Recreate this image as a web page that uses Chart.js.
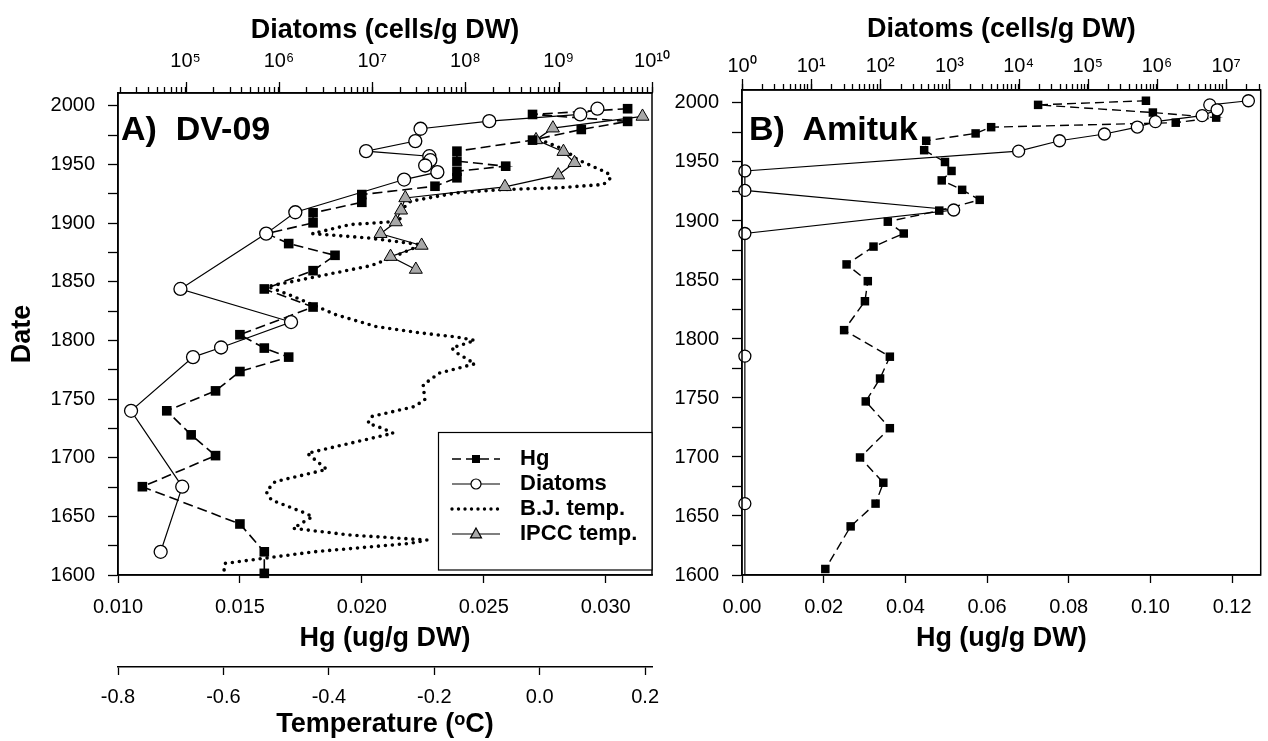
<!DOCTYPE html>
<html><head><meta charset="utf-8">
<script src="https://cdn.jsdelivr.net/npm/chart.js@4.4.1/dist/chart.umd.min.js"></script>
<style>
html,body{margin:0;padding:0;background:#fff;}
#wrap{position:relative;width:1268px;height:741px;overflow:hidden;background:#fff;}
canvas{position:absolute;top:0;}
.plab{position:absolute;font:bold 34px 'Liberation Sans',Arial,sans-serif;line-height:34px;white-space:pre;color:#000;}
</style></head><body>
<div id="wrap">
<canvas id="cA" width="700" height="741" style="left:0"></canvas>
<canvas id="cB" width="608" height="741" style="left:660px"></canvas>
<div class="plab" style="left:121px;top:111px">A)  DV-09</div>
<div class="plab" style="left:749px;top:111px">B)  Amituk</div>
</div>
<script>
// ---------------- data: panel A (DV-09) ----------------
const hgYearA = [1997.6,1992.7,1986.8,1979.9,1970.8,1961.4,1952.9,1948.6,1944.3,1938.7,1931.5,1924.4,1917.8,1908.8,1900.3,1891.1,1882.6,1872.6,1859.5,1843.9,1828.5,1804.9,1793.5,1785.8,1773.5,1757.0,1740.0,1719.5,1701.8,1675.3,1643.5,1619.8,1601.4];
const hgA = [0.0309,0.0270,0.0309,0.0290,0.0270,0.0239,0.0239,0.0259,0.0239,0.0239,0.0230,0.0200,0.0200,0.0180,0.0180,0.0161,0.0170,0.0189,0.0180,0.0160,0.0180,0.0150,0.0160,0.0170,0.0150,0.0140,0.0120,0.0130,0.0140,0.0110,0.0150,0.0160,0.0160];
const diaYearA = [1997.6,1992.7,1987.0,1980.5,1970.0,1961.4,1957.1,1953.7,1949.2,1943.5,1937.2,1909.3,1891.1,1843.9,1815.7,1794.0,1785.8,1740.0,1675.3,1619.8];
const diatomA = [2.6e9,1.7e9,1.8e8,3.3e7,2.9e7,8.6e6,4.1e7,4.2e7,3.7e7,5.0e7,2.2e7,1.5e6,7.3e5,8.8e4,1.35e6,2.4e5,1.2e5,2.6e4,9.2e4,5.4e4];
const ipccYear = [1991,1981,1971,1961,1951.5,1941,1931,1921.5,1911,1901,1891,1881,1871.5,1860.5];
const ipccTemp = [0.195,0.025,-0.007,0.045,0.066,0.035,-0.066,-0.255,-0.263,-0.273,-0.302,-0.224,-0.283,-0.235];
const bjYear = [1971.4,1962.8,1954.3,1943.0,1938.7,1933.0,1930.1,1928.7,1925.9,1918.7,1911.6,1901.6,1898.8,1891.1,1887.4,1881.6,1870.4,1867.5,1863.9,1846.0,1837.6,1822.0,1812.0,1806.3,1802.9,1800.0,1793.5,1789.3,1780.1,1772.2,1762.2,1749.4,1743.6,1735.1,1729.4,1725.2,1720.9,1703.8,1690.0,1679.6,1671.1,1664.0,1652.6,1649.7,1639.8,1634.1,1629.8,1627.0,1619.8,1609.9,1600.0];
const bjTemp = [-0.001,0.047,0.071,0.128,0.135,0.121,0.033,-0.068,-0.157,-0.245,-0.262,-0.266,-0.360,-0.431,-0.326,-0.224,-0.282,-0.299,-0.319,-0.516,-0.468,-0.387,-0.312,-0.224,-0.157,-0.123,-0.167,-0.157,-0.123,-0.190,-0.221,-0.218,-0.238,-0.319,-0.326,-0.299,-0.278,-0.441,-0.404,-0.502,-0.519,-0.509,-0.444,-0.431,-0.468,-0.360,-0.214,-0.245,-0.428,-0.597,-0.600];

// ---------------- data: panel B (Amituk) ----------------
const hgYearB = [2001.9,1998.4,1991.9,1987.6,1983.3,1979.5,1974.2,1968.0,1960.0,1950.0,1942.4,1934.4,1926.4,1917.9,1908.8,1899.4,1889.4,1878.3,1863.2,1849.0,1832.0,1807.5,1785.0,1766.5,1747.1,1724.4,1699.6,1678.2,1660.5,1641.2,1605.1];
const hgB = [0.0989,0.0725,0.1006,0.1161,0.1062,0.0610,0.0572,0.0451,0.0446,0.0497,0.0513,0.0489,0.0539,0.0582,0.0483,0.0357,0.0396,0.0322,0.0256,0.0308,0.0301,0.0250,0.0362,0.0338,0.0303,0.0362,0.0289,0.0346,0.0327,0.0266,0.0204];
const diaYearB = [2001.9,1998.4,1994.2,1989.3,1984.2,1979.6,1973.7,1968.0,1959.2,1942.4,1925.9,1909.3,1889.4,1785.5,1660.5,1600.0];
const diatomB = [2.1e7,5.8e6,7.4e6,4.5e6,9.5e5,5.2e5,1.74e5,3.9e4,1.0e4,1.1,1.1,1150,1.1,1.1,1.1,1.1];

// ---------------- tick labels ----------------
const yearTicks = [1600,1625,1650,1675,1700,1725,1750,1775,1800,1825,1850,1875,1900,1925,1950,1975,2000];
const hgTicksA = [0.010,0.015,0.020,0.025,0.030];
const tempTicks = [-0.8,-0.6,-0.4,-0.2,0.0,0.2];
const diatomDecadesA = [1e5,1e6,1e7,1e8,1e9,1e10];
const hgTicksB = [0,0.02,0.04,0.06,0.08,0.10,0.12];
const diatomDecadesB = [1e0,1e1,1e2,1e3,1e4,1e5,1e6,1e7];

// ---------------- axis ranges ----------------
const yMin = 1600, yMax = 2011;
const hgMinA = 0.010, hgMaxA = 0.0319, tempMin = -0.8, tempMax = 0.213;
const diaMinA = Math.pow(10,4.275), diaMaxA = 1e10;
const hgMinB = 0, hgMaxB = 0.127, diaMinB = 1, diaMaxB = Math.pow(10,7.5);

const FONT = "'Liberation Sans', Arial, sans-serif";
const SUP = ['⁰','¹','²','³','⁴','⁵','⁶','⁷','⁸','⁹'];
const supNum = n => String(n).split('').map(c => SUP[+c]).join('');

function logTickList(min, max){
  const out = [];
  const d0 = Math.floor(Math.log10(min)) , d1 = Math.ceil(Math.log10(max));
  for(let d=d0; d<=d1; d++){
    for(let k=1;k<=9;k++){
      const v = k*Math.pow(10,d);
      if(v >= min*0.9999 && v <= max*1.0001) out.push({value:v});
    }
  }
  return out;
}
function isDecade(v, decades){ return decades.some(d => Math.abs(Math.log10(v)-Math.log10(d))<1e-6); }

function gridOpts(len){ return {drawOnChartArea:false, drawTicks:true, tickLength:len, tickColor:'#000', tickWidth:1.3}; }
const borderOpts = {display:true, color:'#000', width:1.5};
function tickFont(){ return {family:FONT, size:20}; }
function titleFont(){ return {family:FONT, size:27, weight:'bold'}; }

const pts = (xs, ys) => xs.map((x,i)=>({x:ys[i], y:x}));

const framePlugin = {
  id:'frame',
  afterDraw(chart){
    const {ctx, chartArea:a} = chart;
    ctx.save(); ctx.strokeStyle='#000'; ctx.lineWidth=1.5;
    ctx.strokeRect(a.left, a.top, a.right-a.left, a.bottom-a.top);
    // longer ticks at the decades of the log axis
    const s = chart.scales.xTop;
    const decs = chart.canvas.id==='cA' ? diatomDecadesA : diatomDecadesB;
    ctx.lineWidth = 1.3;
    decs.forEach(v=>{
      if(v < s.min*0.9999 || v > s.max*1.0001) return;
      const x = Math.round(s.getPixelForValue(v))+0.5;
      ctx.beginPath(); ctx.moveTo(x, a.top); ctx.lineTo(x, a.top-11); ctx.stroke();
    });
    ctx.restore();
  }
};

function drawMarker(ctx, style, x, y, r){
  ctx.save(); ctx.setLineDash([]);
  ctx.lineWidth = 1.2; ctx.strokeStyle = '#000';
  if(style==='rect'){ ctx.fillStyle='#000'; ctx.fillRect(x-r, y-r, 2*r, 2*r); }
  else if(style==='circle'){ ctx.fillStyle='#fff'; ctx.beginPath(); ctx.arc(x,y,r,0,Math.PI*2); ctx.fill(); ctx.stroke(); }
  else if(style==='triangle'){ ctx.fillStyle='#a8a8a8'; ctx.beginPath(); ctx.moveTo(x, y-r*1.1); ctx.lineTo(x+r, y+r*0.7); ctx.lineTo(x-r, y+r*0.7); ctx.closePath(); ctx.fill(); ctx.stroke(); }
  ctx.restore();
}

const legendItems = [
  {label:'Hg', dash:[9,5], width:1.6, marker:'rect', r:4},
  {label:'Diatoms', dash:[], width:1.2, marker:'circle', r:5},
  {label:'B.J. temp.', dash:[0,6.5], width:3.4, marker:null, cap:'round'},
  {label:'IPCC temp.', dash:[], width:1.2, marker:'triangle', r:5.5}
];
const legendPlugin = {
  id:'boxLegend',
  afterDraw(chart){
    const ctx = chart.ctx;
    ctx.save();
    ctx.strokeStyle='#000'; ctx.lineWidth=1.2; ctx.setLineDash([]);
    ctx.fillStyle='#fff';
    ctx.fillRect(438.5, 432.5, 213.5, 137.5);
    ctx.strokeRect(438.5, 432.5, 213.5, 137.5);
    legendItems.forEach((it,i)=>{
      const y = 459 + i*25;
      ctx.save();
      ctx.strokeStyle='#000'; ctx.lineWidth=it.width; ctx.setLineDash(it.dash);
      ctx.lineCap = it.cap || 'butt';
      ctx.beginPath(); ctx.moveTo(452,y); ctx.lineTo(500,y); ctx.stroke();
      ctx.restore();
      if(it.marker) drawMarker(ctx, it.marker, 476, y, it.r);
      ctx.fillStyle='#000'; ctx.font = "bold 22px " + FONT; ctx.textBaseline='middle'; ctx.textAlign='left';
      ctx.fillText(it.label, 520, y);
    });
    ctx.restore();
  }
};

// ---------------- Chart A ----------------
new Chart(document.getElementById('cA'), {
  type:'scatter',
  data:{ datasets:[
    { label:'Diatoms', data:pts(diaYearA, diatomA), xAxisID:'xTop', yAxisID:'y', showLine:true, order:1,
      borderColor:'#000', borderWidth:1.2, pointStyle:'circle', pointRadius:6.5, pointBackgroundColor:'#fff', pointBorderColor:'#000', pointBorderWidth:1.3, clip:false },
    { label:'Hg', data:pts(hgYearA, hgA), xAxisID:'x', yAxisID:'y', showLine:true, order:2,
      borderColor:'#000', borderWidth:1.6, borderDash:[10,5], pointStyle:'rect', pointRadius:6.8, pointBackgroundColor:'#000', pointBorderColor:'#000', pointBorderWidth:0, clip:false },
    { label:'IPCC temp.', data:pts(ipccYear, ipccTemp), xAxisID:'xTemp', yAxisID:'y', showLine:true, order:3,
      borderColor:'#000', borderWidth:1.2, pointStyle:'triangle', pointRadius:7.5, pointBackgroundColor:'#a8a8a8', pointBorderColor:'#000', pointBorderWidth:1, clip:false },
    { label:'B.J. temp.', data:pts(bjYear, bjTemp), xAxisID:'xTemp', yAxisID:'y', showLine:true, order:4,
      borderColor:'#000', borderWidth:3.6, borderDash:[0,7], borderCapStyle:'round', pointRadius:0, clip:false }
  ]},
  options:{
    responsive:false, animation:false, devicePixelRatio:1,
    layout:{padding:{left:0,right:48,top:0,bottom:0}},
    plugins:{legend:{display:false}, tooltip:{enabled:false}, title:{display:false}},
    scales:{
      y:{ type:'linear', position:'left', min:yMin, max:yMax,
        afterBuildTicks:s=>{ s.ticks = yearTicks.map(v=>({value:v})); },
        afterFit:s=>{ s.width = 118; },
        grid:gridOpts(10), border:borderOpts,
        ticks:{color:'#000', font:tickFont(), padding:13, autoSkip:false, callback:v=> (v%50===0? String(v):'')},
        title:{display:true, text:'Date', color:'#000', font:titleFont(), padding:{top:6,bottom:0}} },
      x:{ type:'linear', position:'bottom', weight:0, min:hgMinA, max:hgMaxA,
        afterBuildTicks:s=>{ s.ticks = hgTicksA.map(v=>({value:v})); },
        afterFit:s=>{ s.height = 92; },
        grid:gridOpts(8), border:borderOpts,
        ticks:{color:'#000', font:tickFont(), padding:12, autoSkip:false, maxRotation:0, callback:v=>v.toFixed(3)},
        title:{display:true, text:'Hg (ug/g DW)', color:'#000', font:titleFont(), padding:{top:0,bottom:12}} },
      xTemp:{ type:'linear', position:'bottom', weight:1, min:tempMin, max:tempMax,
        afterBuildTicks:s=>{ s.ticks = tempTicks.map(v=>({value:v})); },
        afterFit:s=>{ s.height = 74; },
        grid:gridOpts(8), border:borderOpts,
        ticks:{color:'#000', font:tickFont(), padding:10, autoSkip:false, maxRotation:0, callback:v=>v.toFixed(1)},
        title:{display:true, text:'Temperature (ᵒC)', color:'#000', font:titleFont(), padding:{top:0,bottom:0}} },
      xTop:{ type:'logarithmic', position:'top', min:diaMinA, max:diaMaxA,
        afterBuildTicks:s=>{ s.ticks = logTickList(diaMinA, diaMaxA); },
        afterFit:s=>{ s.height = 93; },
        grid:gridOpts(6), border:borderOpts,
        ticks:{color:'#000', font:tickFont(), padding:14, autoSkip:false, maxRotation:0,
          callback:v=> isDecade(v, diatomDecadesA) ? '10'+supNum(Math.round(Math.log10(v))) : ''},
        title:{display:true, text:'Diatoms (cells/g DW)', color:'#000', font:titleFont(), padding:{top:14,bottom:0}} }
    }
  },
  plugins:[framePlugin, legendPlugin]
});

// ---------------- Chart B ----------------
new Chart(document.getElementById('cB'), {
  type:'scatter',
  data:{ datasets:[
    { label:'Diatoms', data:pts(diaYearB, diatomB), xAxisID:'xTop', yAxisID:'y', showLine:true, order:1,
      borderColor:'#000', borderWidth:1.2, pointStyle:'circle',
      pointRadius:c=> (c.dataIndex===diatomB.length-1 ? 0 : 6), pointBackgroundColor:'#fff', pointBorderColor:'#000', pointBorderWidth:1.3, clip:false },
    { label:'Hg', data:pts(hgYearB, hgB), xAxisID:'x', yAxisID:'y', showLine:true, order:2,
      borderColor:'#000', borderWidth:1.4, borderDash:[9,5], pointStyle:'rect', pointRadius:6, pointBackgroundColor:'#000', pointBorderColor:'#000', pointBorderWidth:0, clip:false }
  ]},
  options:{
    responsive:false, animation:false, devicePixelRatio:1,
    layout:{padding:{left:0,right:4,top:0,bottom:74}},
    plugins:{legend:{display:false}, tooltip:{enabled:false}, title:{display:false}},
    scales:{
      y:{ type:'linear', position:'left', min:yMin, max:yMax,
        afterBuildTicks:s=>{ s.ticks = yearTicks.map(v=>({value:v})); },
        afterFit:s=>{ s.width = 82; },
        grid:gridOpts(10), border:borderOpts,
        ticks:{color:'#000', font:tickFont(), padding:13, autoSkip:false, callback:v=> (v%50===0? String(v):'')} },
      x:{ type:'linear', position:'bottom', min:hgMinB, max:hgMaxB,
        afterBuildTicks:s=>{ s.ticks = hgTicksB.map(v=>({value:v})); },
        afterFit:s=>{ s.height = 92; },
        grid:gridOpts(8), border:borderOpts,
        ticks:{color:'#000', font:tickFont(), padding:12, autoSkip:false, maxRotation:0, callback:v=>v.toFixed(2)},
        title:{display:true, text:'Hg (ug/g DW)', color:'#000', font:titleFont(), padding:{top:0,bottom:12}} },
      xTop:{ type:'logarithmic', position:'top', min:diaMinB, max:diaMaxB,
        afterBuildTicks:s=>{ s.ticks = logTickList(diaMinB, diaMaxB); },
        afterFit:s=>{ s.height = 90; },
        grid:gridOpts(6), border:borderOpts,
        ticks:{color:'#000', font:tickFont(), padding:6, autoSkip:false, maxRotation:0,
          callback:v=> isDecade(v, diatomDecadesB) ? '10'+supNum(Math.round(Math.log10(v))) : ''},
        title:{display:true, text:'Diatoms (cells/g DW)', color:'#000', font:titleFont(), padding:{top:13,bottom:0}} }
    }
  },
  plugins:[framePlugin]
});
</script>
</body></html>
